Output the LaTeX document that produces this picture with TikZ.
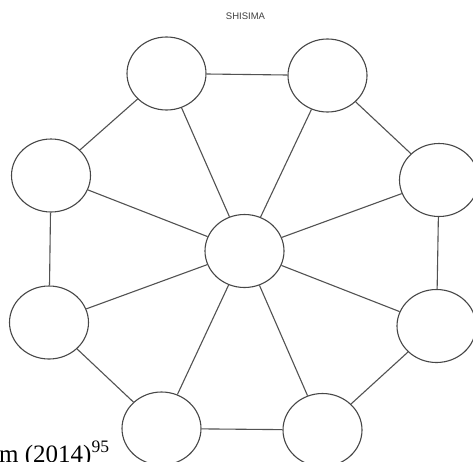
\documentclass[tikz,border=0pt]{standalone}
\usepackage{fontspec}
\setmainfont{Liberation Serif}
\newfontfamily\titlefont{Liberation Sans}
\usetikzlibrary{shapes.geometric}
\begin{document}
\begin{tikzpicture}[x=1pt,y=-1pt,
  vert/.style={ellipse,draw=black!72,line width=1.1pt,fill=white,minimum width=79pt,minimum height=73pt,inner sep=0pt},
  link/.style={draw=black!68,line width=1.1pt}]
\useasboundingbox (0,0) rectangle (473,461);
\clip (0,0) rectangle (473,461);
\fill[white] (0,0) rectangle (473,461);
\node[font=\titlefont\fontsize{9.5}{11}\selectfont,text=black!75] (title) at (245.5,16.5) {SHISIMA};
\node[vert] (tl) at (166.5,73.5) {};
\node[vert] (tr) at (327.5,75.5) {};
\node[vert] (l1) at (51,175.5) {};
\node[vert] (r1) at (439,180) {};
\node[vert] (c)  at (244.5,251) {};
\node[vert] (l2) at (49,322.5) {};
\node[vert] (r2) at (436.5,326) {};
\node[vert] (bl) at (161.5,428.5) {};
\node[vert] (br) at (322.5,430) {};
\foreach \a/\b in {tl/tr,tr/r1,r1/r2,r2/br,br/bl,bl/l2,l2/l1,l1/tl,c/tl,c/tr,c/r1,c/r2,c/br,c/bl,c/l2,c/l1}
  \draw[link] (\a) -- (\b);
\node[anchor=base west,inner sep=0pt,font=\fontsize{25}{28}\selectfont] (cite) at (-1,462) {m (2014)\textsuperscript{95}};
\end{tikzpicture}
\end{document}
